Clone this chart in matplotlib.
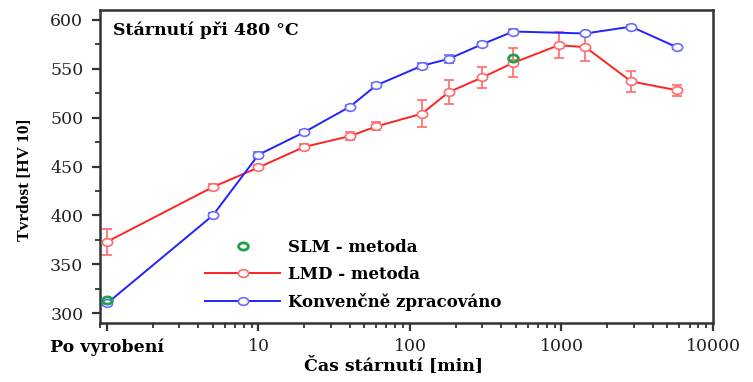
import matplotlib
matplotlib.use("Agg")
import matplotlib.pyplot as plt
from matplotlib.path import Path
from matplotlib.transforms import Affine2D
from matplotlib.ticker import FixedLocator, LogLocator, NullFormatter, MultipleLocator

plt.rcParams['font.family'] = ['DejaVu Serif']

# Data
lmd_time = [1, 5, 10, 20, 40, 60, 120, 180, 300, 480, 960, 1440, 2880, 5760]
lmd_hv = [373, 429, 449, 470, 481, 491, 504, 526, 541, 556, 574, 572, 537, 528]
lmd_err = [13, 3, 3, 3, 4, 4, 14, 12.5, 10.5, 15, 13, 14, 11, 5.5]

conv_time = [1, 5, 10, 20, 40, 60, 120, 180, 300, 480, 1440, 2880, 5760]
conv_hv = [310, 400, 462, 485, 511, 533, 553, 560, 575, 588, 586, 593, 572]
conv_err = [2, 2, 3, 2, 2, 2, 3, 4, 2, 3, 2, 2, 2]

slm_time = [1, 480]
slm_hv = [314, 561]

x_tick_vals = [1, 10, 100, 1000, 10000]
x_tick_labels = ['Po vyrobení', '10', '100', '1000', '10000']

W, H = 753, 382
fig = plt.figure(figsize=(W / 100, H / 100), dpi=100)
ax = fig.add_axes([100 / W, 1 - 323 / H, 613 / W, 313 / H])

red_line = '#ff2222'
red_mk = '#ff6a6a'
blue_line = '#2222ff'
blue_mk = '#6a6aff'
green = '#1fa04a'

ell = Path.unit_circle().transformed(Affine2D().scale(1.35, 1.0))

ax.errorbar(lmd_time, lmd_hv, yerr=lmd_err, fmt='none', ecolor=red_mk,
            elinewidth=1.2, capsize=3.3, capthick=1.2, zorder=2)
ax.plot(lmd_time, lmd_hv, '-', color=red_line, lw=1.4, marker=ell, ms=7.4,
        mfc='white', mec=red_mk, mew=1.2, zorder=3, label='LMD - metoda')

ax.errorbar(conv_time, conv_hv, yerr=conv_err, fmt='none', ecolor=blue_mk,
            elinewidth=1.2, capsize=3.3, capthick=1.2, zorder=4)
ax.plot(conv_time, conv_hv, '-', color=blue_line, lw=1.4, marker=ell, ms=7.4,
        mfc='white', mec=blue_mk, mew=1.2, zorder=5, label='Konvenčně zpracováno')

ax.plot(slm_time, slm_hv, linestyle='none', marker=ell, ms=7.0, mfc='none',
        mec=green, mew=2.0, zorder=6, label='SLM - metoda')

ax.set_xscale('log')
ax.set_xlim(0.9, 10000)
ax.set_ylim(290, 610)

ax.xaxis.set_major_locator(FixedLocator(x_tick_vals))
ax.set_xticks(x_tick_vals)
ax.set_xticklabels(x_tick_labels)
ax.xaxis.set_minor_locator(LogLocator(base=10, subs=range(2, 10)))
ax.xaxis.set_minor_formatter(NullFormatter())
ax.yaxis.set_major_locator(MultipleLocator(50))
ax.yaxis.set_minor_locator(MultipleLocator(25))

ax.tick_params(axis='both', which='major', direction='out', length=6, width=1.6,
               labelsize=12.5, color='#333333', labelcolor='#222222',
               top=False, right=False)
ax.tick_params(axis='both', which='minor', direction='out', length=3.5, width=1.3,
               color='#333333', top=False, right=False)
ax.tick_params(axis='x', which='major', pad=5)
ax.tick_params(axis='y', which='major', pad=6)

for lbl in ax.get_xticklabels():
    if lbl.get_text() == 'Po vyrobení':
        lbl.set_fontweight('bold')
        lbl.set_fontsize(12.5)
        lbl.set_color('black')

for sp in ax.spines.values():
    sp.set_linewidth(1.8)
    sp.set_color('#333333')

fig.text(394 / W, 1 - 365 / H, 'Čas stárnutí [min]', fontsize=12.5,
         fontweight='bold', ha='center', va='center')
fig.text(25 / W, 1 - 180 / H, 'Tvrdost [HV 10]', rotation=90,
         family='Liberation Serif', fontsize=12.5, fontweight='bold',
         ha='center', va='center')

ax.text(13 / 613, 1 - 11 / 313, 'Stárnutí při 480 °C', transform=ax.transAxes,
        fontsize=12.5, fontweight='bold', va='top', ha='left')

handles, labels = ax.get_legend_handles_labels()
order = [2, 0, 1]
leg = ax.legend([handles[i] for i in order], [labels[i] for i in order],
                loc='upper left', bbox_to_anchor=(105 / 613, (323 - 239) / 313),
                frameon=False, borderpad=0, borderaxespad=0, handlelength=4.5,
                handletextpad=0.45, labelspacing=0.6,
                prop={'family': 'DejaVu Serif', 'weight': 'bold', 'size': 12})

fig.savefig('out.png', dpi=100)
